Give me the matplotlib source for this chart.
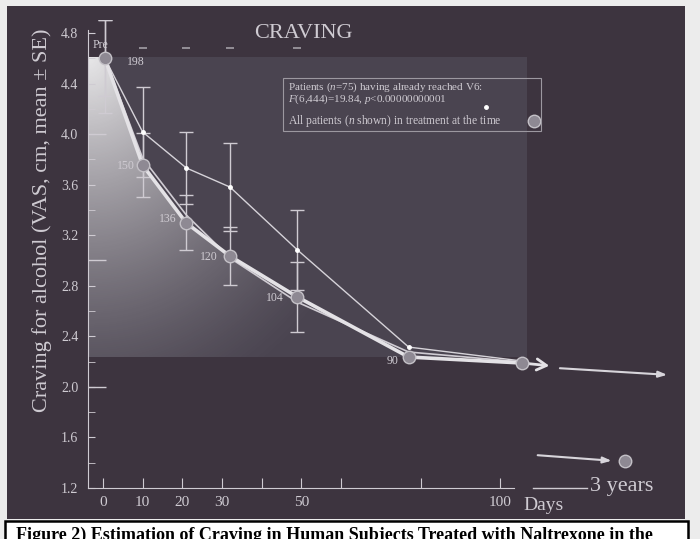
import numpy as np
import matplotlib
matplotlib.use('Agg')
import matplotlib.pyplot as plt
from matplotlib.patches import Rectangle, Polygon
from matplotlib.lines import Line2D

plt.rcParams['font.family'] = ['Liberation Serif', 'DejaVu Serif']
plt.rcParams['mathtext.fontset'] = 'custom'
plt.rcParams['mathtext.rm'] = 'Liberation Serif'
plt.rcParams['mathtext.it'] = 'Liberation Serif:italic'

# ---------------- data ----------------
days = [0.5, 10, 21, 32, 49, 77, 105.5]
n_shown = ['198', '150', '136', '120', '104', '90']
craving_all = [4.60, 3.755, 3.297, 3.035, 2.711, 2.236, 2.189]
err_all_lo = [0.43, 0.253, 0.218, 0.23, 0.277]
err_all_hi = [0.30, 0.253, 0.218, 0.23, 0.277]
craving_v6 = [4.60, 4.017, 3.732, 3.581, 3.083, 2.315, 2.205]
err_v6 = [0.30, 0.355, 0.285, 0.348, 0.316]
craving_other = [4.60, 3.81, 3.36, 3.02, 2.67, 2.276, 2.197]
pre_mark_days = [10, 21, 32, 49]
pre_mark_value = 4.68
three_year_day = 131.5
three_year_value = 1.414
x_ticks = [0, 10, 20, 30, 40, 50, 60, 80, 100]
x_tick_labels = ['0', '10', '20', '30', '', '50', '', '', '100']
y_ticks = [1.2, 1.6, 2.0, 2.4, 2.8, 3.2, 3.6, 4.0, 4.4, 4.8]
y_tick_labels = ['1.2', '1.6', '2.0', '2.4', '2.8', '3.2', '3.6', '4.0', '4.4', '4.8']
long_ticks = [2.0, 3.0, 4.0]

W, H = 700, 539
def F(px, py):
    return (px / W, 1 - py / H)

LIGHT = '#cfcbd2'
fig = plt.figure(figsize=(7, 5.39), dpi=100)
fig.patch.set_facecolor('#ececec')

# dark panel
fig.patches.append(Rectangle(F(7, 519), 678 / W, 513 / H, transform=fig.transFigure,
                             facecolor='#3d343f', edgecolor='none', zorder=-10))

# axes placed so that 1 day = 3.97 px, 1 unit = 126.4 px
ax = fig.add_axes([88 / W, 1 - 488 / H, (690 - 88) / W, (488 - 20) / H])
ax.set_facecolor('none')
x0 = -3.75
ax.set_xlim(x0, (690 - 103) / 3.97)
ax.set_ylim(1.2, 1.2 + (488 - 20) / 126.4)

# lighter rectangle
rx1 = (527 - 103) / 3.97
ry0, ry1 = 2.236, 4.61
ax.add_patch(Rectangle((x0, ry0), rx1 - x0, ry1 - ry0, facecolor='#4a4450',
                       edgecolor='none', zorder=0))

# gradient fill under the curve
nx, ny = 300, 300
gx = np.linspace(x0, rx1, nx)
gy = np.linspace(ry0, ry1, ny)
GX, GY = np.meshgrid(gx, gy)
PX = 103 + 3.97 * GX
PY = 488 - (GY - 1.2) * 126.4
r = np.sqrt(((PX - 88) * 1.2) ** 2 + (PY - 57) ** 2)
alpha = 0.88 * np.clip(1 - r / 380, 0, 1) ** 1.4
img = np.ones((ny, nx, 4))
img[..., 3] = alpha
im = ax.imshow(img, extent=[x0, rx1, ry0, ry1], origin='lower', aspect='auto',
               interpolation='bilinear', zorder=1)
poly_pts = [(x0, ry1), (days[0], ry1)] + list(zip(days[:6], craving_all[:6])) + [(x0, ry0)]
clip = Polygon(poly_pts, closed=True, transform=ax.transData, facecolor='none', edgecolor='none')
ax.add_patch(clip)
im.set_clip_path(clip)

# error bars
ax.errorbar(days[:5], craving_v6[:5], yerr=err_v6, fmt='none', ecolor=LIGHT,
            elinewidth=1, capsize=5, capthick=1, zorder=2)
ax.errorbar(days[:5], craving_all[:5], yerr=[err_all_lo, err_all_hi], fmt='none',
            ecolor=LIGHT, elinewidth=1, capsize=5, capthick=1, zorder=2)

# lines
ax.plot(days, craving_v6, color='#d6d3d9', lw=1.0, zorder=3)
ax.plot(days, craving_v6, 'o', ms=2.5, color='white', zorder=3)
ax.plot(days, craving_other, color='#d0ccd3', lw=1.2, zorder=3)
ax.plot(days, craving_all, color='#e4e2e6', lw=2.6, zorder=4)
ax.plot(days, craving_all, 'o', ms=9, mfc='#8e8993', mec='#c4c1c7', mew=1, zorder=5)
ax.plot(pre_mark_days, [pre_mark_value] * len(pre_mark_days), '_', ms=6, mew=1.2,
        color='#a29ea6', zorder=2)

# n labels
offs = [(5.5, -0.03, 'left'), (-2.0, -0.01, 'right'), (-2.5, 0.03, 'right'),
        (-3.0, -0.01, 'right'), (-3.5, -0.01, 'right'), (-2.5, -0.03, 'right')]
for d, v, lab, (dx, dy, ha) in zip(days, craving_all, n_shown, offs):
    ax.text(d + dx, v + dy, lab, fontsize=8.5, color=LIGHT, ha=ha, va='center', zorder=6)
ax.text(-0.5, 4.705, 'Pre', fontsize=8.5, color=LIGHT, ha='center', va='center')

# arrows on the right
ax.annotate('', xy=(113.1, 2.165), xytext=(days[-1], craving_all[-1]),
            arrowprops=dict(arrowstyle='->,head_length=0.7,head_width=0.4',
                            color='#e4e2e6', lw=2))
ax.annotate('', xy=(142.8, 2.094), xytext=(114.4, 2.149),
            arrowprops=dict(arrowstyle='-|>,head_length=0.5,head_width=0.18',
                            color='#d8d5db', lw=1.5))
ax.annotate('', xy=(128.8, 1.414), xytext=(108.8, 1.461),
            arrowprops=dict(arrowstyle='-|>,head_length=0.5,head_width=0.18',
                            color='#d8d5db', lw=1.5))
ax.plot([three_year_day], [three_year_value], 'o', ms=9, mfc='#8e8993', mec='#c4c1c7',
        mew=1, zorder=5)

# axes styling
for s in ['top', 'right']:
    ax.spines[s].set_visible(False)
ax.spines['left'].set_color(LIGHT)
ax.spines['bottom'].set_color(LIGHT)
ax.spines['left'].set_bounds(1.2, 4.82)
ax.spines['bottom'].set_bounds(x0, 103.5)
ax.set_xticks(x_ticks)
ax.set_xticklabels(x_tick_labels)
ax.set_yticks(y_ticks)
ax.set_yticklabels(y_tick_labels)
ax.set_yticks(np.arange(1.4, 4.81, 0.4), minor=True)
ax.tick_params(axis='x', direction='in', length=7, color=LIGHT, labelcolor=LIGHT,
               labelsize=11, pad=6)
ax.tick_params(axis='y', which='both', direction='in', length=5, color=LIGHT,
               labelcolor=LIGHT, labelsize=10, pad=7)
ax.hlines(long_ticks, x0, 0.75, color=LIGHT, lw=1, zorder=2)

# broken axis piece + labels
ax.plot([108.3, 121.9], [1.2, 1.2], color=LIGHT, lw=1, clip_on=False)
ax.text(122.7, 1.208, '3 years', fontsize=16, color=LIGHT, ha='left', va='center')
ax.text(105.8, 1.06, 'Days', fontsize=14, color=LIGHT, ha='left', va='center',
        clip_on=False)

# titles / labels
fig.text(*F(303, 33), 'CRAVING', fontsize=16, color=LIGHT, ha='center', va='center')
fig.text(*F(42, 220), 'Craving for alcohol (VAS, cm, mean \u00b1 SE)', fontsize=16,
         color=LIGHT, rotation=90, ha='center', va='center')

# legend box
fig.patches.append(Rectangle(F(283, 131), 258 / W, 53 / H, transform=fig.transFigure,
                             facecolor='none', edgecolor='#9c98a0', lw=0.8, zorder=5))
fig.text(*F(288, 87), r'Patients ($\it{n}$=75) having already reached V6:', fontsize=8,
         color=LIGHT, ha='left', va='center')
fig.text(*F(288, 99.5), r'$\it{F}$(6,444)=19.84, $\it{p}$<0.00000000001', fontsize=8,
         color=LIGHT, ha='left', va='center')
fig.text(*F(288, 121), r'All patients ($\it{n}$ shown) in treatment at the time', fontsize=8.3,
         color=LIGHT, ha='left', va='center')
fig.add_artist(Line2D([486 / W], [1 - 107 / H], transform=fig.transFigure, marker='o',
                      ms=2.5, color='white', ls='none'))
fig.add_artist(Line2D([534 / W], [1 - 121 / H], transform=fig.transFigure, marker='o',
                      ms=9, mfc='#8e8993', mec='#c4c1c7', ls='none'))

# caption box (the caption is cropped at the bottom edge, as in the source)
fig.patches.append(Rectangle(F(5, 550), 683 / W, 29 / H, transform=fig.transFigure,
                             facecolor='white', edgecolor='black', lw=1.8, zorder=10))
fig.text(*F(16, 526.5), 'Figure 2) Estimation of Craving in Human Subjects Treated with Naltrexone in the',
         fontsize=13, fontweight='bold', color='black', ha='left', va='top', zorder=11)

fig.savefig('out.png', dpi=100, facecolor=fig.get_facecolor())
